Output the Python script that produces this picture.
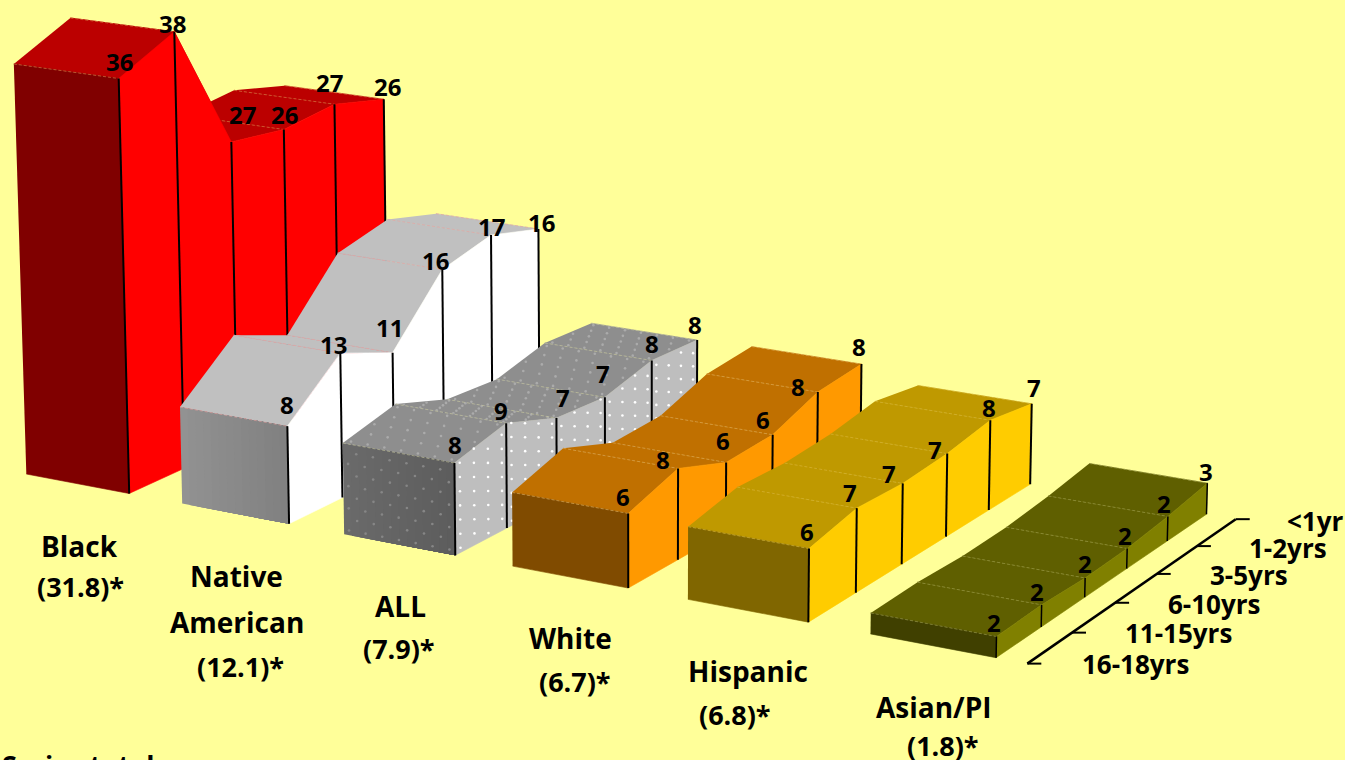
import numpy as np, plotly.graph_objects as go
W,H=1345,760
ages=["16-18yrs","11-15yrs","6-10yrs","3-5yrs","1-2yrs","<1yr"]
black=[35.8,38.2,27.0,26.4,27.0,25.8]
native=[8.4,12.6,10.6,16.0,17.2,15.9]
all_=[7.8,9.0,7.3,7.0,8.2,8.0]
white=[6.2,7.7,6.0,6.2,7.8,8.2]
hispanic=[6.0,7.0,6.8,7.1,7.8,7.1]
asian=[1.7,1.8,1.6,1.7,2.1,2.7]
series=[black,native,all_,white,hispanic,asian]
names=["Black","Native","American","ALL","White","Hispanic","Asian/PI"]
totals=["(31.8)*","(12.1)*","(7.9)*","(6.7)*","(6.8)*","(1.8)*"]

# view projection of the 3D ribbon chart
CAM=np.array([[152.4118,57.28174,-0.3565167,26.33211],[20.01628,-17.23261,-11.48975,474.0284],[-0.01886913,0.01633333,-0.0005568004,1]])
RW=0.6643; AX=0.8266
def pr(x,y,z):
    x,y,z=[np.asarray(a,float) for a in (x,y,z)]
    X=np.stack([x,y,z,np.ones_like(x)],-1)@CAM.T
    return X[...,0]/X[...,2],X[...,1]/X[...,2]

TOP=["#BB0000","#C0C0C0","#8E8E8E","#C07000","#BF9900","#5F5F00"]
SIDE=["#FF0000","#FFFFFF","#BEBEBE","#FF9900","#FFCC00","#808000"]
FRONT=["#800000",None,None,"#804B00","#806600","#404000"]
GRAD={1:((0x92,0x92,0x92),(0x80,0x80,0x80)),2:((0x6A,0x6A,0x6A),(0x5C,0x5C,0x5C))}
HAIR=["#D98A4A","#E8A0A0","#C9C9A0","#E0B060","#D8B840","#A0A050"]
LW=[2,2,2,2,2,1.5]
LAB_DX=[[1,-2,11,1,-5,4],[0,-7,-3,-7,0,3],[1,-5,7,-2,0,-2],[-5,-15,-3,-10,-20,-2],[-2,-7,-14,-12,-1,2],[-2,-5,0,-2,-4,-1]]
LAB_DY=[[-17,-8,-27,-15,-22,-13],[-22,-9,-25,-9,-9,-7],[-19,-13,-21,-24,-17,-16],[-17,-9,-22,-15,-6,-18],[-17,-16,-10,-4,-13,-16],[-14,-13,-14,-13,-13,-12]]
FONT="Open Sans"
fig=go.Figure()
def poly(x,y,z,color,lw=.6):
    a,b=pr(x,y,z)
    fig.add_trace(go.Scatter(x=a,y=b,fill="toself",fillcolor=color,mode="lines",line=dict(color=color,width=lw),hoverinfo="skip"))
def line(x,y,z,color="black",width=2,dash=None):
    a,b=pr(x,y,z)
    fig.add_trace(go.Scatter(x=a,y=b,mode="lines",line=dict(color=color,width=width,dash=dash),hoverinfo="skip"))
def dots(x,y,z,color):
    a,b=pr(x,y,z)
    fig.add_trace(go.Scatter(x=a,y=b,mode="markers",marker=dict(color=color,size=2.6,line=dict(width=0)),hoverinfo="skip"))
anns=[]
for i,v in enumerate(series):
    L,R=i,i+RW
    for k in range(4,-1,-1):
        poly([L,R,R,L],[k,k,k+1,k+1],[v[k],v[k],v[k+1],v[k+1]],TOP[i])
        if i==2:
            xs=[];ys=[];zs=[]
            for n,yy in enumerate(np.arange(k+.06,k+1,.22)):
                for xx in np.arange(L+.03+(n%2)*.05,R,.1):
                    xs.append(xx);ys.append(yy);zs.append(v[k]+(v[k+1]-v[k])*(yy-k))
            dots(xs,ys,zs,"#ABABAB")
        line([L,R],[k+1,k+1],[v[k+1],v[k+1]],HAIR[i],.6,"3px,2px")
        poly([R,R,R,R],[k,k+1,k+1,k],[0,0,v[k+1],v[k]],SIDE[i])
        if i==2:
            xs=[];ys=[];zs=[]
            for n,yy in enumerate(np.arange(k+.1,k+1,.27)):
                top=v[k]+(v[k+1]-v[k])*(yy-k)
                for zz in np.arange(.4+(n%2)*.6,top,1.2):
                    xs.append(R);ys.append(yy);zs.append(zz)
            dots(xs,ys,zs,"#FFFFFF")
        line([R,R],[k+1,k+1],[0,v[k+1]],"black",LW[i])
    if i in GRAD:
        c0,c1=GRAD[i];n=14
        for s in range(n):
            t=s/n;c=[int(a+(b-a)*t) for a,b in zip(c0,c1)]
            a0=L+RW*t
            poly([a0,R,R,a0],[0,0,0,0],[0,0,v[0],v[0]],"rgb(%d,%d,%d)"%tuple(c),0)
    else:
        poly([L,R,R,L],[0,0,0,0],[0,0,v[0],v[0]],FRONT[i])
    if i==2:
        xs=[];zs=[]
        for n,zz in enumerate(np.arange(.4,v[0],.95)):
            for xx in np.arange(L+.03+(n%2)*.05,R,.1):
                xs.append(xx);zs.append(zz)
        dots(xs,[0]*len(xs),zs,"#868686")
    line([L,R],[0,0],[v[0],v[0]],HAIR[i],.6,"3px,2px")
    line([R,R],[0,0],[0,v[0]],"black",LW[i])
    for k,val in enumerate(v):
        a,b=pr(R,k,val)
        anns.append(dict(x=float(a)+LAB_DX[i][k],y=float(b)+LAB_DY[i][k],text="%.0f"%val,showarrow=False,xanchor="center",yanchor="middle",
                         font=dict(family=FONT,size=24,color="black",weight="bold")))
# depth axis
ax_i=5+AX
a,b=pr([ax_i]*6,list(range(6)),[0]*6)
fig.add_trace(go.Scatter(x=a,y=b,mode="lines",line=dict(color="black",width=2.5),hoverinfo="skip"))
for p,q in zip(a,b):
    fig.add_trace(go.Scatter(x=[p,p+14],y=[q,q],mode="lines",line=dict(color="black",width=2),hoverinfo="skip"))
AGE_X=[1135,1178,1214,1249,1288,1315]
AGE_Y=[664,633,604,575,548,521]
for t,x,y in zip(ages,AGE_X,AGE_Y):
    anns.append(dict(x=x,y=y,text=t,showarrow=False,font=dict(family=FONT,size=26,color="black",weight="bold")))
NAME_POS=[(79,546),(236,576),(237,622),(400,606),(570,638),(748,671),(934,707)]
TOT_POS=[(80,586),(240,666),(399,648),(575,681),(735,714),(943,745)]
for n,p in zip(names,NAME_POS):
    anns.append(dict(x=p[0],y=p[1],text=n,showarrow=False,font=dict(family=FONT,size=28,color="black",weight="bold")))
for t,q in zip(totals,TOT_POS):
    anns.append(dict(x=q[0],y=q[1],text=t,showarrow=False,font=dict(family=FONT,size=27,color="black",weight="bold")))
anns.append(dict(x=0,y=744,text="Series total",showarrow=False,xanchor="left",yanchor="top",font=dict(family=FONT,size=27,color="black",weight="bold")))
fig.update_layout(width=W,height=H,margin=dict(l=0,r=0,t=0,b=0),paper_bgcolor="#FFFF99",plot_bgcolor="#FFFF99",showlegend=False,
 xaxis=dict(visible=False,range=[0,W]),yaxis=dict(visible=False,range=[H,0]),annotations=anns)
fig.write_html("out.html",post_script="document.body.style.margin='0';document.body.style.overflow='hidden';",config=dict(displayModeBar=False))
